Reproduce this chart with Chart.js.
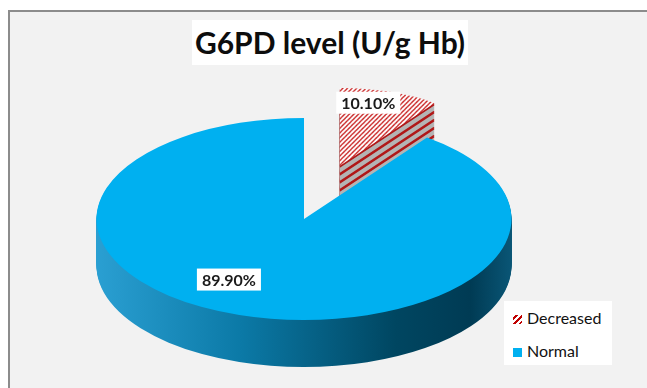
<!DOCTYPE html>
<html>
<head>
<meta charset="utf-8">
<script src="https://cdn.jsdelivr.net/npm/chart.js@4/dist/chart.umd.min.js"></script>
<style>
  html, body { margin: 0; padding: 0; background: #fff; overflow: hidden; width: 647px; height: 388px; }
  body { position: relative; font-family: Lato, "Open Sans", sans-serif; }
  .frame { position: absolute; left: 8px; top: 10px; width: 700px; height: 420px; border: 2px solid #8c8c8c; background: #f2f2f2; }
  .title { position: absolute; left: 192px; top: 20px; width: 276px; height: 45px; background: #fff;
           font: bold 30px Lato, sans-serif; line-height: 45px; text-align: center; color: #0d0d0d; }
  #wrap { position: absolute; left: 0; top: -21px; width: 647px; height: 480px; }
  .legend { position: absolute; left: 504px; top: 301px; width: 108px; height: 64px; background: #fff;
            font: 16px Lato, sans-serif; color: #111; }
  .legend div { position: absolute; left: 9px; height: 20px; line-height: 20px; }
  .legend span.box { display: inline-block; width: 9px; height: 9px; margin-right: 5px; vertical-align: 0px; }
  .hatch { background: repeating-linear-gradient(135deg, transparent 0 2px, #c00000 2px 4px); }
</style>
</head>
<body>
<div class="frame"></div>
<div class="title">G6PD level (U/g Hb)</div>
<div id="wrap"><canvas id="pie" width="647" height="480"></canvas></div>
<div class="legend" id="legend"></div>
<script>
// Data
const categories = ['Decreased', 'Normal'];
const percentages = [10.1, 89.9];

// Look
const TILT = 0.487;        // vertical squash of the pie
const DEPTH = 47;          // thickness of the pie in screen px
const topColors = ['hatch', '#00b0f0'];
const explode = [115, 0];  // pull-out distance along the slice's mid angle
const sliceScale = [0.77, 1]; // pulled slice looks further away
const labelAngleFrac = [0.34, 0.54];
const labelRadiusFrac = [0.83, 0.70];

const canvas = document.getElementById('pie');
const ctx = canvas.getContext('2d');

// red diagonal hatch on white
function makeHatch() {
    const p = document.createElement('canvas');
    p.width = 6; p.height = 6;
    const c = p.getContext('2d');
    c.fillStyle = '#fff';
    c.fillRect(0, 0, 6, 6);
    c.strokeStyle = '#c81e1e';
    c.lineWidth = 1.6;
    c.beginPath();
    c.moveTo(-1, 7); c.lineTo(7, -1);
    c.moveTo(-4, 4); c.lineTo(4, -4);
    c.moveTo(2, 10); c.lineTo(10, 2);
    c.stroke();
    const pat = ctx.createPattern(p, 'repeat');
    pat.setTransform(new DOMMatrix([1, 0, 0, 1 / TILT, 0, 0]));
    return pat;
}
const hatch = makeHatch();

const sideGrad = ctx.createLinearGradient(97, 0, 512, 0);
sideGrad.addColorStop(0, '#2a9fd2');
sideGrad.addColorStop(0.35, '#0b79a6');
sideGrad.addColorStop(0.72, '#004661');
sideGrad.addColorStop(0.9, '#003b54');
sideGrad.addColorStop(1, '#0a5676');

function sideFill(i, d) {
    if (i === 0) return (d % 8 < 3) ? '#b01818' : '#b4b4b4';
    return sideGrad;
}

function shiftOf(arc, i) {
    const mid = (arc.startAngle + arc.endAngle) / 2;
    return { dx: Math.cos(mid) * explode[i], dy: Math.sin(mid) * explode[i] };
}

// move a slice out and shrink it about the pie centre
function place(c, arc, i, extraY) {
    const s = shiftOf(arc, i);
    const f = sliceScale[i];
    c.translate(arc.x + s.dx, arc.y + s.dy + extraY);
    c.scale(f, f);
    c.translate(-arc.x, -arc.y);
}

// draws the arcs as a tilted, extruded pie
const pie3d = {
    id: 'pie3d',
    beforeDatasetsDraw(chart) {
        const c = chart.ctx;
        const meta = chart.getDatasetMeta(0);
        const cy = meta.data[0].y;
        c.save();
        c.translate(0, cy);
        c.scale(1, TILT);
        c.translate(0, -cy);
        // sides
        meta.data.forEach((arc, i) => {
            const orig = arc.options;
            for (let d = DEPTH; d >= 1; d--) {
                arc.options = Object.assign({}, orig, { backgroundColor: sideFill(i, d) });
                c.save();
                place(c, arc, i, d / TILT);
                arc.draw(c);
                c.restore();
            }
            arc.options = orig;
        });
        // tops
        meta.data.forEach((arc, i) => {
            c.save();
            place(c, arc, i, 0);
            arc.draw(c);
            c.restore();
        });
        c.restore();

        // value labels
        c.font = 'bold 16px Lato, sans-serif';
        c.textAlign = 'center';
        c.textBaseline = 'middle';
        meta.data.forEach((arc, i) => {
            const s = shiftOf(arc, i);
            const a = arc.startAngle + labelAngleFrac[i] * (arc.endAngle - arc.startAngle);
            const r = labelRadiusFrac[i] * arc.outerRadius * sliceScale[i];
            const x = arc.x + s.dx + Math.cos(a) * r;
            const y = arc.y + (s.dy + Math.sin(a) * r) * TILT;
            const txt = percentages[i].toFixed(2) + '%';
            const w = c.measureText(txt).width + 10;
            c.fillStyle = '#fff';
            c.fillRect(x - w / 2, y - 11, w, 22);
            c.fillStyle = '#1a1a1a';
            c.fillText(txt, x, y + 1);
        });
        return false;
    }
};

new Chart(canvas, {
    type: 'pie',
    data: {
        labels: categories,
        datasets: [{
            data: percentages,
            backgroundColor: topColors.map(col => col === 'hatch' ? hatch : col),
            borderWidth: 0,
            hoverOffset: 0
        }]
    },
    options: {
        responsive: false,
        animation: false,
        devicePixelRatio: 1,
        layout: { padding: { left: 96.5, right: 135.5, top: 32.5, bottom: 32.5 } },
        plugins: {
            legend: { display: false },
            tooltip: { enabled: false },
            title: { display: false }
        }
    },
    plugins: [pie3d]
});

// legend
const legend = document.getElementById('legend');
categories.forEach((name, i) => {
    const row = document.createElement('div');
    row.style.top = (7 + i * 33) + 'px';
    const sw = document.createElement('span');
    sw.className = 'box' + (topColors[i] === 'hatch' ? ' hatch' : '');
    if (topColors[i] !== 'hatch') sw.style.background = topColors[i];
    row.appendChild(sw);
    row.appendChild(document.createTextNode(name));
    legend.appendChild(row);
});
</script>
</body>
</html>
